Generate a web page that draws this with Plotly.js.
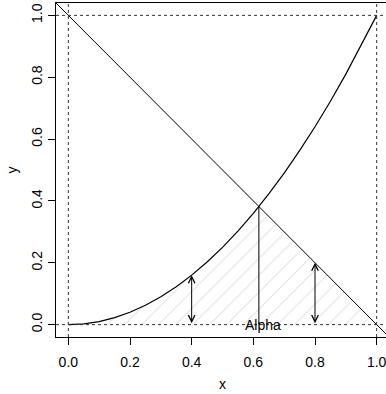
<!DOCTYPE html>
<html>
<head>
<meta charset="utf-8">
<script src="https://cdn.plot.ly/plotly-3.0.1.min.js"></script>
<style>
html,body{margin:0;padding:0;overflow:hidden;background:#fff;}
#chart{width:392px;height:394px;}
</style>
</head>
<body>
<div id="chart"></div>
<script>
// Curve y = x^2
var curveX = [0,0.05,0.1,0.15,0.2,0.25,0.3,0.35,0.4,0.45,0.5,0.55,0.6,0.618,0.65,0.7,0.75,0.8,0.85,0.9,0.95,1];
var curveY = [0,0.0025,0.01,0.0225,0.04,0.0625,0.09,0.1225,0.16,0.2025,0.25,0.3025,0.36,0.382,0.4225,0.49,0.5625,0.64,0.7225,0.81,0.9025,1];
// Diagonal line
var lineX = [-0.04, 1.04];
var lineY = [1.04, -0.04];
// Shaded region (under curve to intersection, then under diagonal)
var shadeX = [0,0.05,0.1,0.15,0.2,0.25,0.3,0.35,0.4,0.45,0.5,0.55,0.6,0.618,1,0];
var shadeY = [0,0.0025,0.01,0.0225,0.04,0.0625,0.09,0.1225,0.16,0.2025,0.25,0.3025,0.36,0.382,0,0];
// Vertical drop at intersection
var dropX = [0.618, 0.618];
var dropY = [0, 0.382];
// Double arrows
var arrowX = [0.4, 0.8];
var arrowTop = [0.16, 0.2];
// Reference dotted lines
var hRefs = [0, 1];
var vRefs = [0, 1];
// Label
var labelText = "Alpha";
var labelX = 0.63, labelY = 0;
var tickVals = [0, 0.2, 0.4, 0.6, 0.8, 1.0];
var tickText = ["0.0", "0.2", "0.4", "0.6", "0.8", "1.0"];

var font = {family: "Liberation Sans, Arial, sans-serif", size: 14, color: "#000"};

var traces = [
  {x: shadeX, y: shadeY, mode: "lines", fill: "toself", line: {width: 0, color: "rgba(0,0,0,0)"},
   fillcolor: "rgba(0,0,0,0)",
   fillpattern: {shape: "/", fgcolor: "#c4c4c4", bgcolor: "rgba(0,0,0,0)", size: 12, solidity: 0.06},
   hoverinfo: "skip"},
  {x: curveX, y: curveY, mode: "lines", line: {color: "#000", width: 1.2}},
  {x: lineX, y: lineY, mode: "lines", line: {color: "#000", width: 1}},
  {x: dropX, y: dropY, mode: "lines", line: {color: "#000", width: 1}}
];

var shapes = [];
hRefs.forEach(function(v){
  shapes.push({type: "line", xref: "paper", yref: "y", x0: 0, x1: 1, y0: v, y1: v,
    line: {color: "#333", width: 1, dash: "dot"}});
});
vRefs.forEach(function(v){
  shapes.push({type: "line", xref: "x", yref: "paper", x0: v, x1: v, y0: 0, y1: 1,
    line: {color: "#333", width: 1, dash: "dot"}});
});

var annotations = [];
arrowX.forEach(function(x, i){
  annotations.push({x: x, y: arrowTop[i], ax: x, ay: 0, xref: "x", yref: "y", axref: "x", ayref: "y",
    text: "", showarrow: true, arrowside: "end+start", arrowhead: 5, startarrowhead: 5,
    arrowsize: 1.3, startarrowsize: 1.3, arrowwidth: 1, arrowcolor: "#000", standoff: 0, startstandoff: 0});
});
annotations.push({x: labelX, y: labelY, xref: "x", yref: "y", text: labelText, showarrow: false,
  font: font, xanchor: "center", yanchor: "middle"});

var axisCommon = {
  range: [-0.04, 1.04], showgrid: false, zeroline: false, showline: true, mirror: true,
  linecolor: "#000", linewidth: 1, ticks: "outside", ticklen: 7, tickwidth: 1, tickcolor: "#000",
  tickvals: tickVals, ticktext: tickText, tickfont: font
};

var layout = {
  width: 392, height: 394,
  margin: {l: 56, r: 3, t: 3, b: 57},
  paper_bgcolor: "#fff", plot_bgcolor: "#fff",
  showlegend: false,
  font: font,
  xaxis: Object.assign({}, axisCommon, {ticklabelstandoff: 5, title: {text: "x", font: font, standoff: 10}}),
  yaxis: Object.assign({}, axisCommon, {tickangle: -90, title: {text: "y", font: font, standoff: 8}}),
  shapes: shapes,
  annotations: annotations
};

Plotly.newPlot("chart", traces, layout, {staticPlot: true, displayModeBar: false});
</script>
</body>
</html>
